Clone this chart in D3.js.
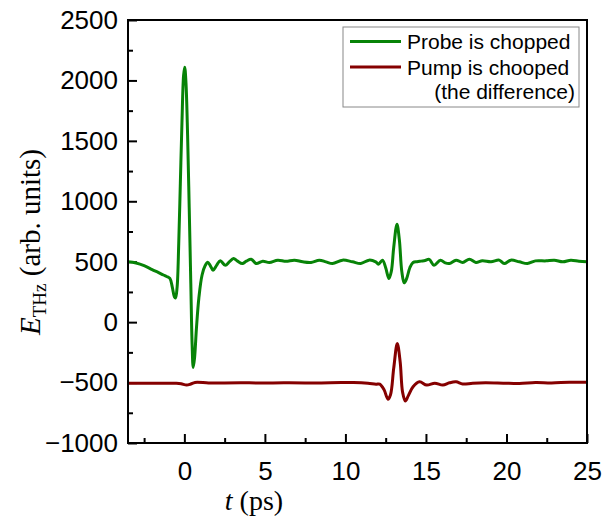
<!DOCTYPE html>
<html lang="en">
<head>
<meta charset="UTF-8">
<script src="https://d3js.org/d3.v7.min.js"></script>
<title>THz traces</title>
<style>
    body { margin: 0; background: #fff; }
    .tick text { font-family: "Liberation Sans", Arial, sans-serif; font-size: 26px; fill: #000; }
    .tick line { stroke: #000; stroke-width: 2; }
</style>
</head>
<body>
<svg id="grafico" width="612" height="517"></svg>
<script>
    // time axis (ps) and field values for the probe-chopped trace
    var probeT = [
        -3.5, -3.0, -2.5, -2.0, -1.6,
        -1.3, -1.1, -0.9, -0.75, -0.62,
        -0.55, -0.45, -0.35, -0.25, -0.15,
        -0.05, 0.02, 0.1, 0.2, 0.3,
        0.4, 0.48, 0.55, 0.63, 0.75,
        0.9, 1.1, 1.3, 1.45, 1.6,
        1.78, 2.0, 2.23, 2.54, 2.8,
        3.05, 3.3, 3.6, 3.85, 4.15,
        4.46, 4.87, 5.28, 5.8, 6.31,
        6.83, 7.35, 7.86, 8.38, 8.79,
        9.2, 9.82, 10.44, 10.95, 11.47,
        11.88, 12.05, 12.3, 12.5, 12.7,
        12.85, 13.0, 13.2, 13.35, 13.5,
        13.65, 13.8, 14.0, 14.2, 14.45,
        14.7, 14.95, 15.2, 15.5, 15.9,
        16.2, 16.46, 16.87, 17.28, 17.7,
        18.1, 18.5, 19.04, 19.55, 19.86,
        20.27, 20.8, 21.3, 21.8, 22.45,
        22.97, 23.5, 24.0, 24.5, 25.0
    ];
    var probeV = [
        500, 490, 468, 435, 410,
        390, 378, 362, 290, 210,
        200, 290, 650, 1150, 1650,
        2040, 2110, 1980, 1550, 950,
        320, -180, -375, -300, -50,
        200, 390, 470, 495, 470,
        430, 470, 508, 470, 500,
        527, 505, 485, 505, 521,
        485, 504, 494, 513, 504,
        513, 499, 494, 513, 499,
        485, 513, 499, 485, 513,
        499, 480, 513, 450, 361,
        420, 620, 810, 680, 420,
        325, 360, 450, 494, 500,
        505, 510, 519, 471, 513,
        490, 485, 513, 494, 521,
        494, 507, 499, 513, 485,
        513, 499, 485, 507, 507,
        513, 499, 513, 504, 499
    ];

    // pump-chopped trace (the difference)
    var pumpT = [
        -3.5, -2.5, -1.5, -0.5, -0.2,
        0.14, 0.4, 0.66, 1.5, 2.5,
        3.5, 4.5, 5.5, 6.5, 7.5,
        8.5, 9.74, 10.5, 11.4, 11.9,
        12.13, 12.4, 12.64, 12.8, 13.0,
        13.22, 13.4, 13.55, 13.72, 13.9,
        14.2, 14.6, 15.05, 15.55, 16.05,
        16.46, 16.87, 17.28, 17.9, 18.7,
        19.8, 20.8, 21.8, 22.8, 23.9,
        25.0
    ];
    var pumpV = [
        -505, -505, -505, -506, -510,
        -521, -512, -499, -503, -503,
        -502, -503, -503, -502, -503,
        -503, -500, -499, -505, -514,
        -513, -560, -637, -600, -380,
        -176, -330, -580, -653, -610,
        -535, -494, -521, -505, -521,
        -502, -494, -512, -505, -502,
        -505, -508, -500, -503, -497,
        -497
    ];

    var xMajor = [0, 5, 10, 15, 20, 25];
    var xMinor = [-2.5, 2.5, 7.5, 12.5, 17.5, 22.5];
    var yMajor = [-1000, -500, 0, 500, 1000, 1500, 2000, 2500];
    var yMinor = [-750, -250, 250, 750, 1250, 1750, 2250];

    var legendNames = ["Probe is chopped", "Pump is chooped"];
    var colores = ["#078307", "#850000"];

    var svg = d3.select("#grafico");
    var L = 128, R = 587, T = 20, B = 443;

    var x = d3.scaleLinear().domain([-3.5, 25]).range([L, R]);
    var y = d3.scaleLinear().domain([-1000, 2500]).range([B, T]);

    // ejes (ticks hacia dentro)
    svg.append("g")
        .attr("transform", "translate(0," + B + ")")
        .call(d3.axisBottom(x).tickValues(xMajor).tickSize(-9).tickPadding(19).tickFormat(d3.format("d")))
        .call(g => g.select(".domain").remove());
    svg.append("g")
        .attr("transform", "translate(0," + B + ")")
        .call(d3.axisBottom(x).tickValues(xMinor).tickSize(-5).tickFormat(""))
        .call(g => g.select(".domain").remove());
    svg.append("g")
        .attr("transform", "translate(" + L + ",0)")
        .call(d3.axisLeft(y).tickValues(yMajor).tickSize(-9).tickPadding(10).tickFormat(d3.format("d")))
        .call(g => g.select(".domain").remove());
    svg.append("g")
        .attr("transform", "translate(" + L + ",0)")
        .call(d3.axisLeft(y).tickValues(yMinor).tickSize(-5).tickFormat(""))
        .call(g => g.select(".domain").remove());

    // curvas
    var linea = d3.line()
        .x(d => x(d[0]))
        .y(d => y(d[1]))
        .curve(d3.curveCatmullRom.alpha(0.5));

    svg.append("path")
        .datum(d3.zip(pumpT, pumpV))
        .attr("d", linea)
        .attr("fill", "none")
        .attr("stroke", colores[1])
        .attr("stroke-width", 3);

    svg.append("path")
        .datum(d3.zip(probeT, probeV))
        .attr("d", linea)
        .attr("fill", "none")
        .attr("stroke", colores[0])
        .attr("stroke-width", 3);

    // marco
    svg.append("rect")
        .attr("x", L).attr("y", T)
        .attr("width", R - L).attr("height", B - T)
        .attr("fill", "none")
        .attr("stroke", "#000")
        .attr("stroke-width", 2);

    // leyenda
    var leg = svg.append("g");
    leg.append("rect")
        .attr("x", 343).attr("y", 27)
        .attr("width", 236).attr("height", 80)
        .attr("fill", "#fff")
        .attr("stroke", "#888")
        .attr("stroke-width", 1);
    legendNames.forEach(function (n, i) {
        var yy = 41.5 + i * 25.5;
        leg.append("line")
            .attr("x1", 350).attr("x2", 401)
            .attr("y1", yy).attr("y2", yy)
            .attr("stroke", colores[i])
            .attr("stroke-width", 3);
        leg.append("text")
            .attr("x", 407).attr("y", yy + 7.5)
            .attr("font-family", "Liberation Sans, Arial, sans-serif")
            .attr("font-size", 21)
            .text(n);
    });
    leg.append("text")
        .attr("x", 575).attr("y", 98.5)
        .attr("text-anchor", "end")
        .attr("font-family", "Liberation Sans, Arial, sans-serif")
        .attr("font-size", 21)
        .text("(the difference)");

    // títulos de ejes
    var xt = svg.append("text")
        .attr("x", 254).attr("y", 510)
        .attr("text-anchor", "middle")
        .attr("font-family", "Liberation Serif, Times New Roman, serif")
        .attr("font-size", 28);
    xt.append("tspan").attr("font-style", "italic").text("t");
    xt.append("tspan").text(" (ps)");

    var yt = svg.append("text")
        .attr("transform", "translate(40,242) rotate(-90)")
        .attr("text-anchor", "middle")
        .attr("font-family", "Liberation Serif, Times New Roman, serif")
        .attr("font-size", 29);
    yt.append("tspan").attr("font-style", "italic").text("E");
    yt.append("tspan").attr("font-size", 19).attr("dy", 6).text("THz");
    yt.append("tspan").attr("dy", -6).text(" (arb. units)");
</script>
</body>
</html>
